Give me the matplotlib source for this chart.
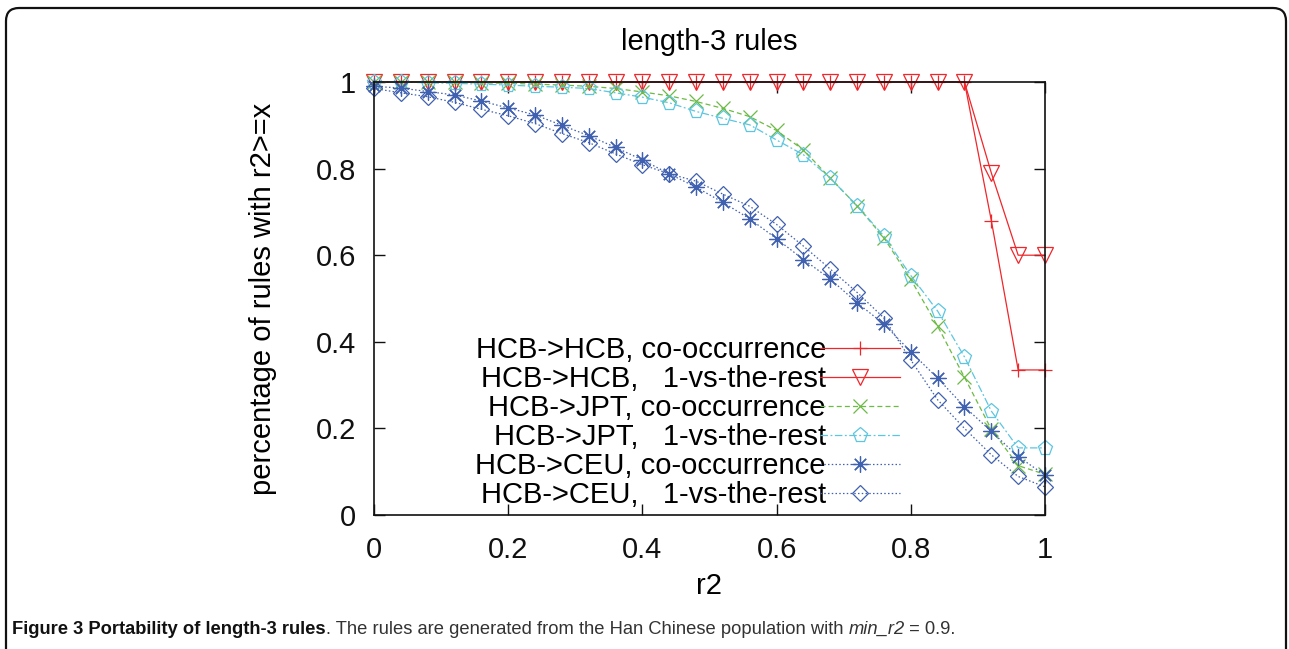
import matplotlib
matplotlib.use("Agg")
import matplotlib.pyplot as plt
from matplotlib.patches import FancyBboxPatch

# ---- data ----
r2 = [0.00, 0.04, 0.08, 0.12, 0.16, 0.20, 0.24, 0.28, 0.32, 0.36, 0.40, 0.44, 0.48,
      0.52, 0.56, 0.60, 0.64, 0.68, 0.72, 0.76, 0.80, 0.84, 0.88, 0.92, 0.96, 1.00]

hcb_hcb_cooc = [1.0] * 23 + [0.68, 0.335, 0.335]
hcb_hcb_1vr = [1.0] * 23 + [0.79, 0.60, 0.60]
hcb_jpt_cooc = [1.0, 1.0, 1.0, 0.999, 0.998, 0.997, 0.995, 0.993, 0.99, 0.985, 0.977,
                0.968, 0.955, 0.939, 0.92, 0.888, 0.843, 0.778, 0.714, 0.64, 0.544,
                0.436, 0.318, 0.198, 0.114, 0.094]
hcb_jpt_1vr = [1.0, 1.0, 0.998, 0.997, 0.995, 0.993, 0.99, 0.988, 0.985, 0.975, 0.965,
               0.952, 0.932, 0.916, 0.901, 0.866, 0.832, 0.778, 0.714, 0.644, 0.553,
               0.471, 0.365, 0.24, 0.155, 0.155]
hcb_ceu_cooc = [0.99, 0.986, 0.978, 0.97, 0.956, 0.94, 0.924, 0.90, 0.876, 0.849, 0.82,
                0.788, 0.757, 0.722, 0.684, 0.638, 0.59, 0.545, 0.49, 0.441, 0.377,
                0.316, 0.25, 0.193, 0.135, 0.092]
hcb_ceu_1vr = [0.985, 0.975, 0.966, 0.953, 0.937, 0.922, 0.904, 0.881, 0.86, 0.834, 0.809,
               0.788, 0.771, 0.741, 0.713, 0.671, 0.621, 0.568, 0.514, 0.455, 0.358,
               0.266, 0.20, 0.139, 0.089, 0.065]

labels = ["HCB->HCB, co-occurrence", "HCB->HCB,   1-vs-the-rest",
          "HCB->JPT, co-occurrence", "HCB->JPT,   1-vs-the-rest",
          "HCB->CEU, co-occurrence", "HCB->CEU,   1-vs-the-rest"]
ticks = [0, 0.2, 0.4, 0.6, 0.8, 1]
tick_labels = ["0", "0.2", "0.4", "0.6", "0.8", "1"]

RED = "#f0262a"
GREEN = "#6cbb45"
CYAN = "#5cc6e0"
BLUE = "#4060b0"
FS = 21

plt.rcParams["font.family"] = ["Liberation Sans", "DejaVu Sans"]

fig = plt.figure(figsize=(12.89, 6.49), dpi=100)
ax = fig.add_axes([374 / 1289, 1 - 515 / 649, 671 / 1289, 433 / 649])

# rounded frame of the journal figure (open past the bottom edge)
frame = FancyBboxPatch((0.06, -0.5), 12.80, 6.49 - 0.08 + 0.5, transform=fig.dpi_scale_trans,
                       boxstyle="round,pad=0,rounding_size=0.13", fill=False,
                       edgecolor="#111111", linewidth=1.6)
fig.patches.append(frame)

series = [
    (hcb_hcb_cooc, RED, "-", "+", 10),
    (hcb_hcb_1vr, RED, "-", "v", 11),
    (hcb_jpt_cooc, GREEN, (0, (4, 2.5)), "x", 10),
    (hcb_jpt_1vr, CYAN, (0, (6, 2, 1.5, 2)), "p", 11),
    (hcb_ceu_cooc, BLUE, (0, (1.2, 1.8)), (8, 2, 0), 11.5),
    (hcb_ceu_1vr, BLUE, (0, (1.2, 1.8)), "D", 8),
]
for (ys, col, ls, mk, ms), lab in zip(series, labels):
    ax.plot(r2, ys, color=col, linestyle=ls, linewidth=0.9, marker=mk, markersize=ms,
            markerfacecolor="none", markeredgecolor=col, markeredgewidth=0.9,
            label=lab, clip_on=False)

ax.set_xlim(0, 1)
ax.set_ylim(0, 1)
ax.set_xticks(ticks)
ax.set_xticklabels(tick_labels)
ax.set_yticks(ticks)
ax.set_yticklabels(tick_labels)
ax.tick_params(direction="in", length=8, width=1, top=True, right=True,
               labelsize=FS, pad=13, colors="#111111")
ax.tick_params(axis="x", pad=15)
for sp in ax.spines.values():
    sp.set_linewidth(1.2)
    sp.set_color("#111111")

ax.set_title("length-3 rules", fontsize=FS, pad=23)
ax.set_xlabel("r2", fontsize=FS, labelpad=6)
ax.set_ylabel("percentage of rules with r2>=x", fontsize=FS, labelpad=28)

# gnuplot-style key: right-aligned text, sample to its right
ax.legend(loc="lower right", bbox_to_anchor=(0.784, 0.014), frameon=False,
          markerfirst=False, fontsize=FS, handlelength=2.74, handletextpad=-0.2,
          labelspacing=0.035, borderaxespad=0, borderpad=0)

# caption: bold lead, regular body, italic variable
cap_y = 1 - 629 / 649
parts = [("Figure 3 Portability of length-3 rules", "bold", "normal", "#111111"),
         (". The rules are generated from the Han Chinese population with ", "normal", "normal", "#333333"),
         ("min_r2", "normal", "italic", "#333333"),
         (" = 0.9.", "normal", "normal", "#333333")]
renderer = fig.canvas.get_renderer()
x = 12 / 1289
for txt, wt, st, col in parts:
    t = fig.text(x, cap_y, txt, fontsize=13.2, fontweight=wt, fontstyle=st,
                 color=col, va="center", ha="left")
    x = t.get_window_extent(renderer).x1 / fig.bbox.width

fig.savefig("out.png", dpi=100)
